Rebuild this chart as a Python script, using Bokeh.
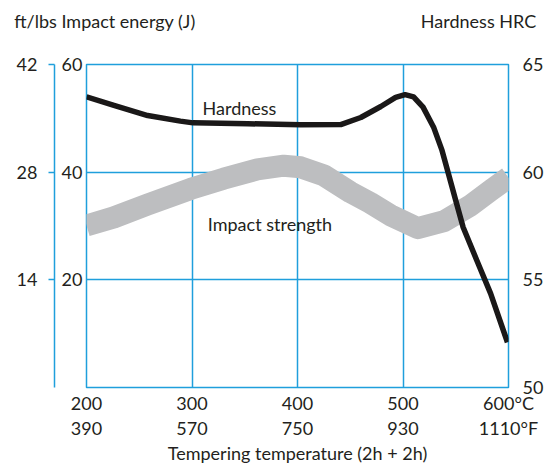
from bokeh.plotting import figure
from bokeh.models import LinearAxis, Range1d, FixedTicker
from bokeh.embed import file_html
from bokeh.resources import INLINE

# ---- data ----
temp_c_ticks = [200, 300, 400, 500, 600]
temp_c_labels = ["200", "300", "400", "500", "600°C"]
temp_f_labels = ["390", "570", "750", "930", "1110°F"]

energy_j_ticks = [20, 40, 60]
energy_ftlbs_ticks = [14, 28, 42]
hrc_ticks = [50, 55, 60, 65]

# header texts, centred over these temperatures
header_pos = [217.5, 571.6]
header_texts = ["ft/lbs Impact energy (J)", "Hardness HRC"]

hardness_temp = [200, 226, 258, 289, 301, 353, 403, 441, 460, 479, 493, 502, 510,
                 519, 529, 537, 543, 550, 557, 570, 583, 599]
hardness_hrc = [63.5, 63.1, 62.63, 62.37, 62.29, 62.25, 62.2, 62.21, 62.54, 63.05, 63.47, 63.6, 63.5,
                63.02, 62.09, 61.01, 59.94, 58.68, 57.44, 55.9, 54.37, 52.1]

impact_temp = [200, 226, 258, 299, 330, 362, 387, 403, 425, 450, 469, 488, 514, 539, 564, 583, 600]
impact_j = [30.1, 31.6, 34.0, 36.9, 38.8, 40.5, 41.2, 40.9, 39.4, 36.3, 34.3, 32.0, 29.6, 30.9, 33.8, 36.6, 39.0]

BLUE = "#1f9fdc"
TXT = "#231f20"
FONT = "Lato"
FS = "18px"

p = figure(frame_width=422, frame_height=323,
           x_range=Range1d(200, 600), y_range=Range1d(0, 60),
           output_backend="svg", toolbar_location=None,
           min_border_left=86, min_border_top=64, min_border_right=20, min_border_bottom=0)
p.extra_y_ranges = {"hrc": Range1d(50, 65), "ftlbs": Range1d(0, 42)}

p.outline_line_color = BLUE
p.outline_line_width = 1.5
p.background_fill_color = "white"
p.border_fill_color = "white"

p.xgrid.ticker = FixedTicker(ticks=temp_c_ticks[1:-1])
p.ygrid.ticker = FixedTicker(ticks=energy_j_ticks[:-1])
for g in (p.xgrid[0], p.ygrid[0]):
    g.grid_line_color = BLUE
    g.grid_line_width = 1.5

def style_axis(ax, line=None, tick_out=0, standoff=4):
    ax.major_label_text_font = FONT
    ax.major_label_text_font_size = FS
    ax.major_label_text_color = TXT
    ax.minor_tick_line_color = None
    ax.major_tick_in = 0
    ax.major_tick_out = tick_out
    ax.major_label_standoff = standoff
    ax.axis_line_color = line
    ax.major_tick_line_color = line
    ax.axis_line_width = 1.5
    ax.major_tick_line_width = 1.5

# bottom C axis
xc = p.xaxis[0]
xc.ticker = FixedTicker(ticks=temp_c_ticks)
xc.major_label_overrides = dict(zip(temp_c_ticks, temp_c_labels))
style_axis(xc, standoff=4)

# bottom F axis
xf = LinearAxis(ticker=FixedTicker(ticks=temp_c_ticks),
                major_label_overrides=dict(zip(temp_c_ticks, temp_f_labels)))
style_axis(xf, standoff=0)
xf.axis_label = "Tempering temperature (2h + 2h)"
xf.axis_label_text_font = FONT
xf.axis_label_text_font_size = FS
xf.axis_label_text_font_style = "normal"
xf.axis_label_text_color = TXT
xf.axis_label_standoff = 0
p.add_layout(xf, "below")

# header row above the frame
xt = LinearAxis(ticker=FixedTicker(ticks=header_pos),
                major_label_overrides=dict(zip(header_pos, header_texts)))
style_axis(xt, standoff=33)
p.add_layout(xt, "above")

# left J axis
yj = p.yaxis[0]
yj.ticker = FixedTicker(ticks=energy_j_ticks)
style_axis(yj, standoff=4)
yj.axis_label = " "
yj.axis_label_text_font_size = "1px"
yj.axis_label_standoff = 0

# outer ft/lbs axis
yf = LinearAxis(y_range_name="ftlbs", ticker=FixedTicker(ticks=energy_ftlbs_ticks))
style_axis(yf, line=BLUE, tick_out=6, standoff=11)
p.add_layout(yf, "left")

# right HRC axis
yh = LinearAxis(y_range_name="hrc", ticker=FixedTicker(ticks=hrc_ticks))
style_axis(yh, standoff=14)
p.add_layout(yh, "right")

# curves
p.line(impact_temp, impact_j, line_color="#bdbec0", line_width=22,
       line_cap="butt", line_join="round")
p.line(hardness_temp, hardness_hrc, y_range_name="hrc", line_color="#1a1818",
       line_width=5.5, line_cap="butt", line_join="round")

# in-plot texts
p.text(x=[310.0], y=[51.9], text=["Hardness"], text_font={"value": FONT},
       text_font_size=FS, text_color=TXT, text_baseline="alphabetic")
p.text(x=[315.0], y=[30.3], text=["Impact strength"], text_font={"value": FONT},
       text_font_size=FS, text_color=TXT, text_baseline="alphabetic")

open("out.html", "w").write(file_html(p, INLINE))
